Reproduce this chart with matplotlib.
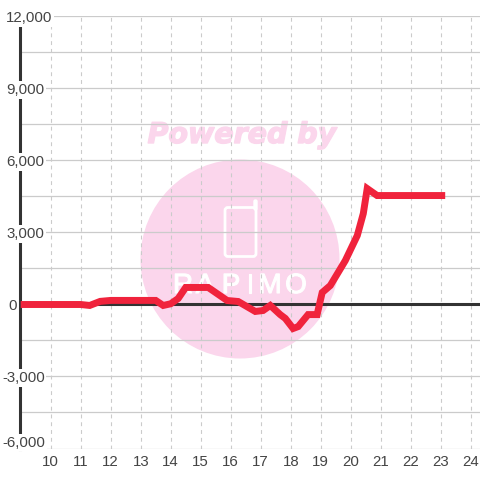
"""Hourly line chart with a pink watermark behind the grid"""

import matplotlib
matplotlib.use('Agg')
import matplotlib.pyplot as plt
import matplotlib.patheffects as pe
from matplotlib.patches import Circle, FancyBboxPatch, Rectangle
from matplotlib.transforms import blended_transform_factory

hours = [9, 11, 11.3, 11.65, 12, 13.5, 13.75, 14, 14.25, 14.5, 15.25, 15.88, 16.25,
         16.82, 17.08, 17.32, 17.65, 17.82, 18.08, 18.25, 18.58, 18.88, 19.05, 19.32,
         19.82, 20.22, 20.42, 20.55, 20.88, 21.15, 23.15]
values = [0, 0, -40, 130, 170, 170, -40, 30, 250, 710, 710, 167, 125,
          -290, -250, -40, -420, -580, -1000, -920, -420, -420, 500, 790,
          1830, 2875, 3790, 4830, 4540, 4540, 4540]
x_ticks = list(range(10, 25))
y_grid = list(range(-6000, 12001, 1500))
y_ticks = [12000, 9000, 6000, 3000, 0, -3000, -5700]  # last label sits above its line
y_labels = ['12,000', '9,000', '6,000', '3,000', '0', '-3,000', '-6,000']
y_label_left = [6, 6, 6, 6, 8, 2, 2]  # left edge of each label, pixels

W = 480.0
plt.rcParams['font.family'] = ['Liberation Sans', 'DejaVu Sans']

fig = plt.figure(figsize=(4.8, 4.8), dpi=100)
ax = fig.add_axes([20 / W, 1 - 448.5 / W, 460 / W, 432 / W])
ax.patch.set_alpha(0)
ax.set_xlim(10 - 30.7 / 30, 10 - 30.7 / 30 + 460 / 30.0)
ax.set_ylim(-6000, 12000)

# watermark, in figure pixels flipped to fractions
pink = '#fbd6ec'
fig.add_artist(Circle((240 / W, 1 - 259 / W), 99.5 / W, transform=fig.transFigure, fc=pink, ec='none', zorder=-3))
fig.text(242 / W, 1 - 135 / W, 'Powered by', color=pink, fontsize=20.5, fontweight='bold', fontstyle='italic',
         family='DejaVu Sans', ha='center', va='center', zorder=-3,
         path_effects=[pe.withStroke(linewidth=1, foreground=pink)])
fig.add_artist(FancyBboxPatch((225 / W, 1 - 256.5 / W), 31 / W, 49 / W, boxstyle='round,pad=0,rounding_size=0.006',
                              transform=fig.transFigure, fc='none', ec='white', lw=2, zorder=-2))
fig.add_artist(FancyBboxPatch((254 / W, 1 - 210 / W), 3 / W, 10 / W, boxstyle='round,pad=0,rounding_size=0.003',
                              transform=fig.transFigure, fc='white', ec='white', lw=1, zorder=-2))
for ch, px in zip('RAPIMO', [183, 205, 231, 250, 270, 296]):
    fig.text(px / W, 1 - 286 / W, ch, color='white', fontsize=20, family='Liberation Sans',
             ha='center', va='center', zorder=-2,
             path_effects=[pe.withStroke(linewidth=0.8, foreground='white')])

ax.set_xticks(x_ticks)
ax.set_yticks(y_grid)
ax.set_yticklabels([])
ax.grid(axis='y', color='#cbcbcb', lw=0.9, zorder=1)
ax.grid(axis='x', color='#cbcbcb', lw=0.8, ls=(0, (3.5, 3.5)), zorder=1)
ax.tick_params(length=0, labelleft=False, labelsize=10.8, labelcolor='#444444', pad=5)
ax.set_axisbelow(True)

for s in ['top', 'right', 'bottom']:
    ax.spines[s].set_visible(False)
ax.spines['left'].set_color('#333333')
ax.spines['left'].set_linewidth(2.2)
ax.spines['left'].set_zorder(2)
ax.axhline(0, color='#333333', lw=2.2, zorder=2)

# the bottom grid line and axis stop short of the last label's column
ax.add_patch(Rectangle((15 / W, 1 - 451 / W), 31 / W, 15 / W, transform=fig.transFigure, fc='white', ec='none',
                       zorder=3, clip_on=False))

label_trans = blended_transform_factory(fig.transFigure, ax.transData)
for v, lab, left in zip(y_ticks, y_labels, y_label_left):
    ax.text(left / W, v, lab, transform=label_trans, ha='left', va='center_baseline', fontsize=10.8, color='#444444',
            zorder=4, clip_on=False, bbox=dict(fc='white', ec='none', pad=1.2))

ax.plot(hours, values, color='#f0233c', lw=5, solid_capstyle='butt', solid_joinstyle='miter', zorder=5)

fig.savefig('out.png', dpi=100)
